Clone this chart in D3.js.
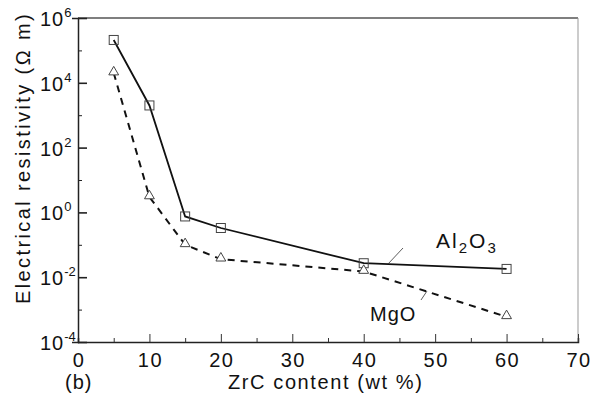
<!DOCTYPE html>
<html>
<head>
<meta charset="utf-8">
<script src="https://cdn.jsdelivr.net/npm/d3@7"></script>
<style>
  body { margin: 0; background: #fff; }
  text { font-family: "Liberation Sans", Arial, sans-serif; fill: #111; }
</style>
</head>
<body>
<script>
// ZrC content (wt %)
const zrc = [5, 10, 15, 20, 40, 60];
// electrical resistivity (ohm m)
const al2o3 = [2.1e5, 2.0e3, 0.75, 0.33, 0.027, 0.018];
const mgo = [2.0e4, 3.0, 0.1, 0.036, 0.015, 6.0e-4];
const xTicks = [0, 10, 20, 30, 40, 50, 60, 70];
const yExps = [-4, -2, 0, 2, 4, 6];

const W = 594, H = 397;
const L = 78, R = 578, T = 18, B = 342;

const svg = d3.select("body").append("svg")
  .attr("width", W)
  .attr("height", H);

const x = d3.scaleLinear().domain([0, 70]).range([L, R]);
const y = d3.scaleLog().domain([1e-4, 1e6]).range([B, T]);

// frame
svg.append("line").attr("x1", L).attr("x2", R).attr("y1", T).attr("y2", T)
  .attr("stroke", "#555").attr("stroke-width", 1.5);
svg.append("line").attr("x1", R).attr("x2", R).attr("y1", T).attr("y2", B)
  .attr("stroke", "#999").attr("stroke-width", 1);

// bottom axis, ticks pointing inward
const xAxis = svg.append("g")
  .attr("transform", "translate(0," + B + ")")
  .call(d3.axisBottom(x).tickValues(d3.range(0, 71, 5)).tickSize(-4).tickFormat(""));
xAxis.selectAll(".tick line")
  .attr("y2", (d) => d % 10 === 0 ? -8 : -4)
  .attr("stroke", "#333");
xAxis.select(".domain").attr("stroke", "#222").attr("stroke-width", 1.5);

svg.selectAll(".xlab")
  .data(xTicks)
  .enter()
  .append("text")
  .attr("class", "xlab")
  .attr("x", (d) => x(d) + 1)
  .attr("y", 367)
  .attr("text-anchor", "middle")
  .attr("font-size", 20)
  .attr("letter-spacing", 1.5)
  .text((d) => d);

// left axis
const yAxis = svg.append("g")
  .attr("transform", "translate(" + L + ",0)")
  .call(d3.axisLeft(y).tickValues(d3.range(-4, 7).map((e) => Math.pow(10, e))).tickFormat(""));
yAxis.selectAll(".tick line")
  .attr("x2", (d) => Math.round(Math.log10(d)) % 2 === 0 ? 9 : 4)
  .attr("stroke", "#222")
  .attr("stroke-width", (d) => Math.round(Math.log10(d)) % 2 === 0 ? 1.6 : 1);
yAxis.select(".domain").attr("stroke", "#222").attr("stroke-width", 1.5);

const ylab = svg.selectAll(".ylab")
  .data(yExps)
  .enter()
  .append("text")
  .attr("class", "ylab")
  .attr("x", 40)
  .attr("y", (d) => y(Math.pow(10, d)) + 8)
  .attr("font-size", 20)
  .attr("letter-spacing", 1);
ylab.append("tspan").text("10");
ylab.append("tspan")
  .attr("dy", -9)
  .attr("font-size", 13)
  .attr("letter-spacing", 0)
  .text((d) => d);

// series lines
const line = d3.line()
  .x((d) => x(d[0]))
  .y((d) => y(d[1]));

svg.append("path")
  .datum(d3.zip(zrc, al2o3))
  .attr("fill", "none")
  .attr("stroke", "#111")
  .attr("stroke-width", 1.8)
  .attr("d", line);

svg.append("path")
  .datum(d3.zip(zrc, mgo))
  .attr("fill", "none")
  .attr("stroke", "#111")
  .attr("stroke-width", 2)
  .attr("stroke-dasharray", "7,6")
  .attr("d", line);

// markers
svg.selectAll(".sq")
  .data(d3.zip(zrc, al2o3))
  .enter()
  .append("rect")
  .attr("x", (d) => x(d[0]) - 4.5)
  .attr("y", (d) => y(d[1]) - 4.5)
  .attr("width", 9)
  .attr("height", 9)
  .attr("fill", "none")
  .attr("stroke", "#444")
  .attr("stroke-width", 1);

const tri = d3.symbol().type(d3.symbolTriangle).size(42);
svg.selectAll(".tri")
  .data(d3.zip(zrc, mgo))
  .enter()
  .append("path")
  .attr("transform", (d) => "translate(" + x(d[0]) + "," + (y(d[1]) - 1) + ")")
  .attr("d", tri)
  .attr("fill", "#fff")
  .attr("stroke", "#444")
  .attr("stroke-width", 1);

// series labels with leader lines
const alLab = svg.append("text")
  .attr("x", 436)
  .attr("y", 248)
  .attr("font-size", 21)
  .attr("letter-spacing", 2);
alLab.append("tspan").text("Al");
alLab.append("tspan").attr("dy", 5).attr("font-size", 15).text("2");
alLab.append("tspan").attr("dy", -5).text("O");
alLab.append("tspan").attr("dy", 5).attr("font-size", 15).text("3");

svg.append("line")
  .attr("x1", 388).attr("y1", 264)
  .attr("x2", 403).attr("y2", 248)
  .attr("stroke", "#333").attr("stroke-width", 0.8);

svg.append("text")
  .attr("x", 370)
  .attr("y", 321)
  .attr("font-size", 20)
  .attr("letter-spacing", 1)
  .text("MgO");

svg.append("line")
  .attr("x1", 427).attr("y1", 291)
  .attr("x2", 421).attr("y2", 300)
  .attr("stroke", "#333").attr("stroke-width", 0.8);

// axis titles
svg.append("text")
  .attr("x", 228)
  .attr("y", 389)
  .attr("font-size", 20)
  .attr("letter-spacing", 1.6)
  .text("ZrC content (wt %)");

svg.append("text")
  .attr("x", 65)
  .attr("y", 389)
  .attr("font-size", 20)
  .attr("letter-spacing", 1)
  .text("(b)");

svg.append("text")
  .attr("transform", "translate(30,158) rotate(-90)")
  .attr("text-anchor", "middle")
  .attr("font-size", 20)
  .attr("letter-spacing", 2.4)
  .text("Electrical resistivity (\u03A9 m)");
</script>
</body>
</html>
